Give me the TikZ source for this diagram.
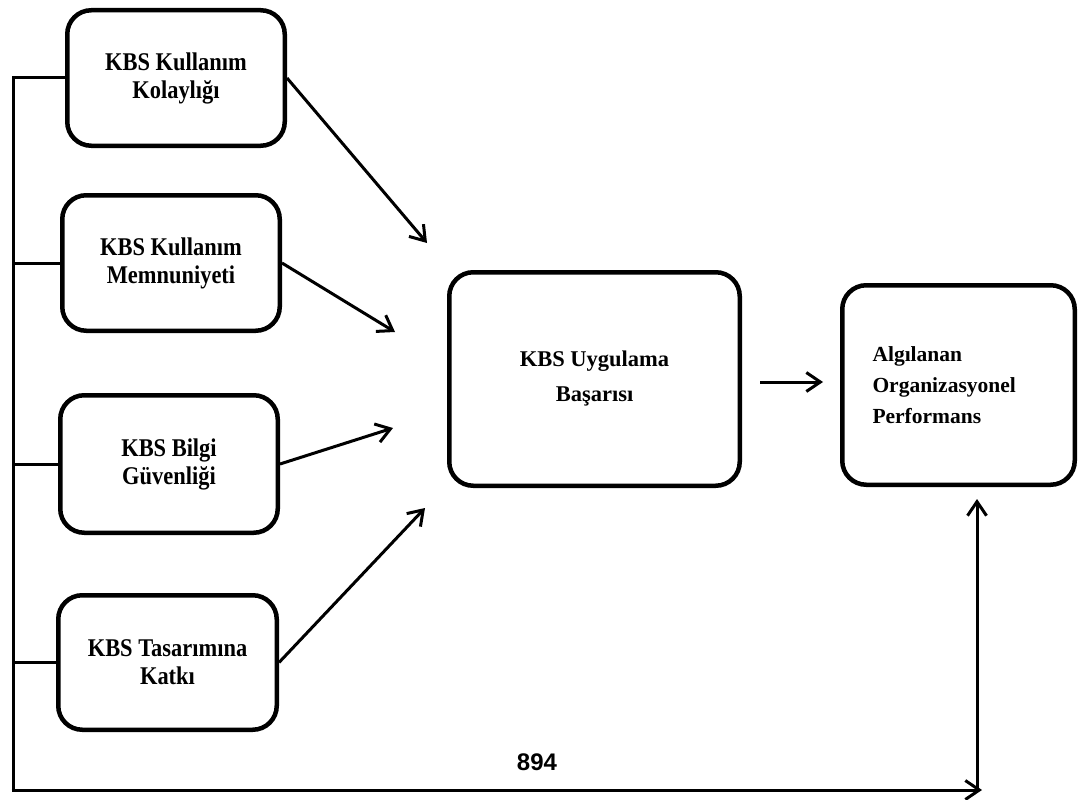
\documentclass[tikz,border=0pt]{standalone}
\usepackage{fontspec}
\setmainfont{Liberation Serif}
\newfontfamily\numfont{Liberation Sans}
\newfontfamily\narrowfont[FakeStretch=0.88]{Liberation Serif}
\usetikzlibrary{arrows.meta}
\tikzset{
  box/.style={draw, line width=4.5pt, rounded corners=24pt, align=center,
    font=\narrowfont\bfseries\fontsize{25.5}{28}\selectfont, inner sep=0pt},
  conn/.style={line width=3pt},
  arr/.style={line width=3pt, -{Straight Barb[length=14pt,width=19pt,line width=3pt]}},
}
\begin{document}
\begin{tikzpicture}[x=1pt,y=-1pt]
\useasboundingbox (0,0) rectangle (1085,800);
% input boxes
\node[box, minimum width=217.5pt, minimum height=135.5pt] (B1) at (176,78) {KBS Kullanım\\Kolaylığı};
\node[box, minimum width=217.5pt, minimum height=135.5pt] (B2) at (171,263) {KBS Kullanım\\Memnuniyeti};
\node[box, minimum width=217.5pt, minimum height=137.5pt] (B3) at (169,464) {KBS Bilgi\\Güvenliği};
\node[box, minimum width=218.5pt, minimum height=134.5pt] (B4) at (167.5,662.5) {KBS Tasarımına\\Katkı};
% central and outcome boxes
\node[box, minimum width=290.5pt, minimum height=213.5pt,
  font=\bfseries\fontsize{22.5}{35}\selectfont] (C) at (594.5,379) {KBS Uygulama\\Başarısı};
\node[box, minimum width=232.5pt, minimum height=199.5pt, align=left,
  text width=172pt, inner xsep=30pt,
  font=\bfseries\fontsize{21.5}{31}\selectfont] (R) at (958.5,385) {Algılanan\\Organizasyonel\\Performans};
% arrow end points
\coordinate (e1) at (427,243);
\coordinate (e2) at (395,332);
\coordinate (e3) at (393,428);
\coordinate (e4) at (425,508);
\coordinate (m1) at (760,382);
\coordinate (m2) at (823,382);
\coordinate (L) at (13,790);
\coordinate (BR) at (982,790);
\coordinate (VB) at (977,790);
\coordinate (VT) at (977,499);
% diagonal arrows
\draw[arr] (B1.east) -- (e1);
\draw[arr] (B2.east) -- (e2);
\draw[arr] (B3.east) -- (e3);
\draw[arr] (B4.east) -- (e4);
\draw[arr] (m1) -- (m2);
% left bracket line
\draw[conn] (B1.west) -| (L);
\draw[conn] (B2.west) -- (B2.west -| L);
\draw[conn] (B3.west) -- (B3.west -| L);
\draw[conn] (B4.west) -- (B4.west -| L);
\draw[arr] ([xshift=-1.5pt]L) -- (BR);
\draw[arr] ([yshift=-1.5pt]VB) -- (VT);
% page number
\node[font=\numfont\bfseries\fontsize{24}{28}\selectfont, inner sep=0pt] (pn) at (537,762) {894};
\end{tikzpicture}
\end{document}
